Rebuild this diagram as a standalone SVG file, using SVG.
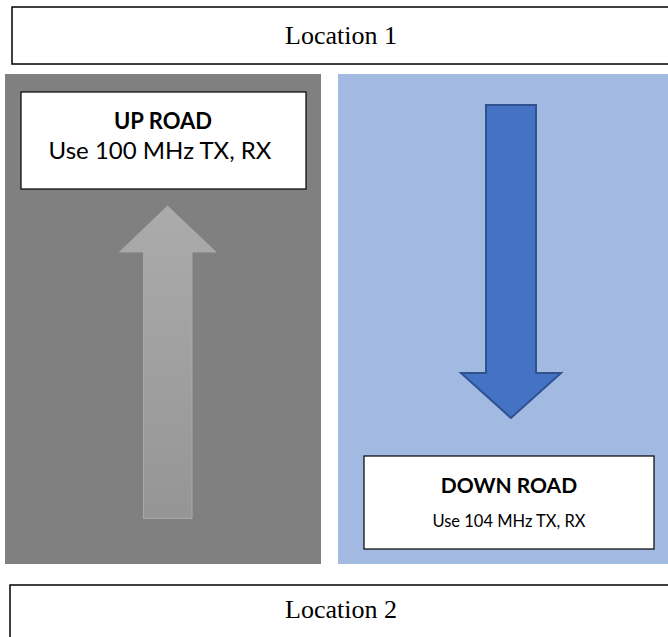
<svg xmlns="http://www.w3.org/2000/svg" width="668" height="637" viewBox="0 0 668 637">
<style>
.loc{fill:#fff;stroke:#000;stroke-width:1.5}
.lt{font-family:"Liberation Serif",serif;font-size:26px;fill:#000;text-anchor:middle}
.lbl{fill:#fff;stroke:#000;stroke-width:1.2}
.b{font-family:Lato,"Open Sans",sans-serif;font-weight:bold;fill:#000;text-anchor:middle}
.r{font-family:Lato,"Open Sans",sans-serif;fill:#000;text-anchor:middle}
</style>
<defs>
<linearGradient id="ug" x1="0" y1="0" x2="0" y2="1">
<stop offset="0" stop-color="#ababab"/>
<stop offset="1" stop-color="#959595"/>
</linearGradient>
</defs>
<rect width="668" height="637" fill="#fff"/>
<g id="location1">
<rect class="loc" x="12" y="7" width="670" height="57"/>
<text class="lt" x="341" y="44">Location 1</text>
</g>
<g id="up-road-lane">
<rect x="5" y="74" width="316" height="490" fill="#808080"/>
</g>
<g id="down-road-lane">
<rect x="338" y="74" width="330" height="490" fill="#a2b9e1"/>
</g>
<g id="connectors">
<polygon id="up-arrow" points="143.5,518.5 143.5,252 119.5,252 167.5,206 216,252 192,252 192,518.5" fill="url(#ug)" stroke="#a8a8a8" stroke-width="1"/>
<polygon id="down-arrow" points="486,105 536,105 536,373 561,373 511,418 461,373 486,373" fill="#4472c4" stroke="#2f528f" stroke-width="2"/>
</g>
<g id="up-road">
<rect class="lbl" x="21" y="92" width="285" height="97"/>
<text class="b" x="163" y="129" font-size="22">UP ROAD</text>
<text class="r" x="160" y="159" font-size="24">Use 100 MHz TX, RX</text>
</g>
<g id="down-road">
<rect class="lbl" x="364" y="456" width="290" height="93"/>
<text class="b" x="509" y="493" font-size="21">DOWN ROAD</text>
<text class="r" x="509" y="527" font-size="16.5">Use 104 MHz TX, RX</text>
</g>
<g id="location2">
<rect class="loc" x="10" y="585" width="670" height="60"/>
<text class="lt" x="341" y="618">Location 2</text>
</g>
</svg>
